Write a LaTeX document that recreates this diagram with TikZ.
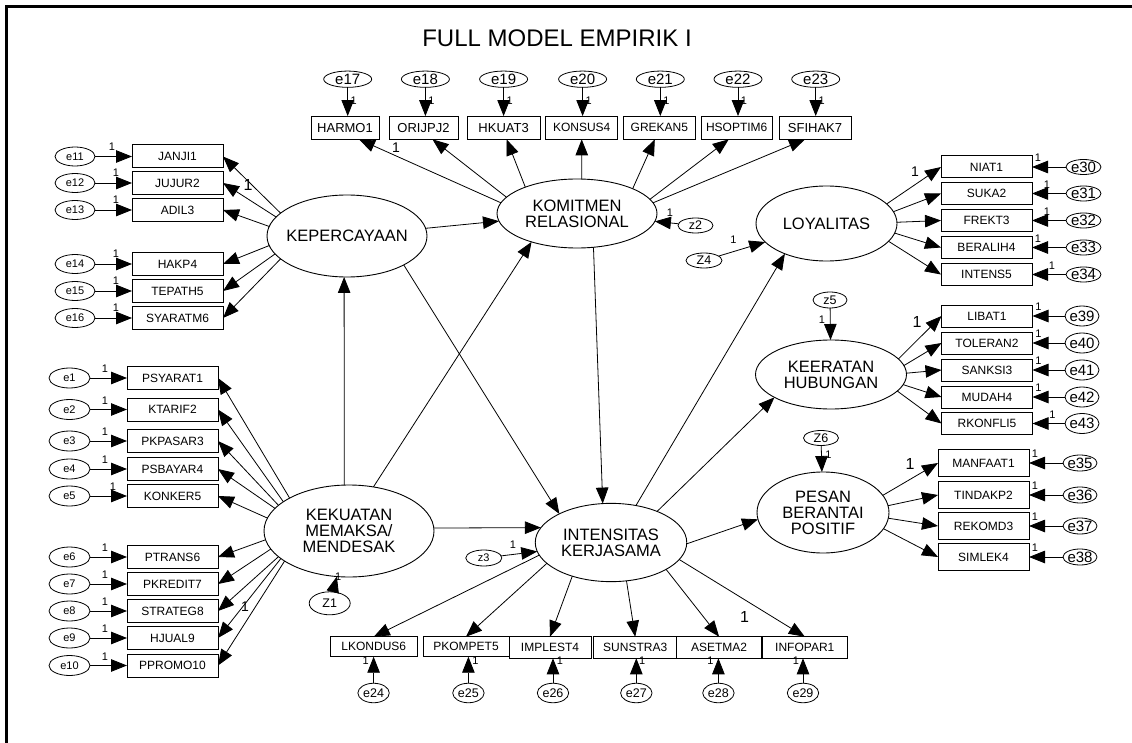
\documentclass[tikz,border=0pt]{standalone}
\usepackage{fontspec}
\setmainfont{Liberation Sans}
\usetikzlibrary{arrows.meta,shapes.geometric}
\newcommand{\myfs}[1]{\fontsize{#1}{#1}\selectfont}
\begin{document}
\begin{tikzpicture}[x=1pt,y=-1pt,
  every node/.style={inner sep=0pt,outer sep=0pt},
  box/.style={draw,line width=1pt,minimum width=91pt,minimum height=23pt,font=\myfs{12}},
  errlab/.style={font=\myfs{11}},
  err/.style={draw,ellipse,line width=0.8pt,label={[errlab]center:#1}},
  lvlab/.style={align=center,font=\fontsize{16.5}{16}\selectfont},
  lv/.style={draw,ellipse,line width=0.9pt,label={[lvlab]center:{#1}}},
  con/.style={line width=0.8pt,-{Triangle[length=16pt,width=12.5pt]}},
  one/.style={font=\myfs{11}},
  big/.style={font=\myfs{16}},
]
\useasboundingbox (0,0) rectangle (1132,743);
% frame along the top and left edges
\draw[line width=3.3pt] (6.7,743) -- (6.7,6.7) -- (1132,6.7);

\node[font=\myfs{24}] (title) at (557,38) {FULL MODEL EMPIRIK I};

% latent constructs
\node[lv={KOMITMEN\\RELASIONAL},minimum width=160pt,minimum height=69pt] (KOM) at (577,213.5) {};
\node[lv=KEPERCAYAAN,minimum width=160pt,minimum height=82pt] (KEP) at (347,236) {};
\node[lv={KEKUATAN\\MEMAKSA/\\MENDESAK},minimum width=170pt,minimum height=92pt] (KEK) at (349,531) {};
\node[lv={INTENSITAS\\KERJASAMA},minimum width=151.5pt,minimum height=78.3pt] (INT) at (611,542.5) {};
\node[lv=LOYALITAS,minimum width=141pt,minimum height=75pt] (LOY) at (826.5,223.5) {};
\node[lv={KEERATAN\\HUBUNGAN},minimum width=151pt,minimum height=69pt] (KEER) at (831,374.5) {};
\node[lv={PESAN\\BERANTAI\\POSITIF},minimum width=132pt,minimum height=81pt] (PES) at (823,512.5) {};

% structural paths
\draw[con] (KEP) -- (KOM);
\draw[con] (KEK.96) -- (KEP.266);
\draw[con] (KEK.61) -- (KOM.212);
\draw[con] (KEP.-27) -- (INT.151);
\draw[con] (KOM.-64) -- (INT.102);
\draw[con] (KEK.2) -- (INT.168);
\draw[con] (INT.56.5) -- (LOY.216.8);
\draw[con] (INT.34.3) -- (KEER.202.4);
\draw[con] (INT.-1.9) -- (PES.186.6);

% disturbances
\begin{scope}[errlab/.style={font=\myfs{12.5}}]
\node[err=z2,minimum width=35pt,minimum height=15pt] (z2) at (695.5,225.5) {};
\node[err=Z4,minimum width=36pt,minimum height=15pt] (Z4) at (704,260.5) {};
\node[err=z5,minimum width=34pt,minimum height=16pt] (z5) at (830,300) {};
\node[err=Z6,minimum width=35pt,minimum height=15pt] (Z6) at (821,438) {};
\node[err=Z1,minimum width=41pt,minimum height=23pt] (Z1) at (329.7,603.3) {};
\end{scope}
\node[err=z3,errlab/.style={font=\myfs{14}},minimum width=36pt,minimum height=16pt] (z3) at (483.8,558) {};
\draw[con] (z2) -- (KOM);
\draw[con] (Z4) -- (LOY);
\draw[con] (z5) -- (KEER);
\draw[con] (Z6) -- (PES);
\draw[con] (Z1) -- (KEK);
\draw[con] (z3) -- (INT);
\node[one] (wz2) at (670,213) {1};
\node[one] (wZ4) at (733.3,239.3) {1};
\node[one] (wz5) at (822,320) {1};
\node[one] (wZ6) at (828.3,455) {1};
\node[one] (wZ1) at (338.3,577) {1};
\node[one] (wz3) at (513,545) {1};

% indicators of KOMITMEN RELASIONAL
\begin{scope}[errlab/.style={font=\myfs{15}}]
\foreach \n/\e/\bx/\bw/\ex/\ang/\dx/\fs in {HARMO1/e17/345/68/347.7/172/14/13, ORIJPJ2/e18/423.5/69/425.4/167/9/13, HKUAT3/e19/503.6/73/503.6/153/3/13, KONSUS4/e20/581.7/72/582.6/82/0/12, GREKAN5/e21/659.4/72/660.3/24/-4.6/12, HSOPTIM6/e22/736.7/71/738/11/-8/12, SFIHAK7/e23/815/72/815.7/8/-10/13}{
  \node[box,minimum width=\bw pt,minimum height=23.3pt,font=\myfs{\fs}] (\n) at (\bx,127.7) {\n};
  \node[err=\e,minimum width=48pt,minimum height=16.3pt] (\e) at (\ex,79.2) {};
  \draw[con] (\e) -- (\e |- \n.north);
  \path (\e.south) ++(6,13) node[one] (w\e) {1};
  \draw[con] (KOM.\ang) -- ([xshift=\dx pt]\n.south);
}
\end{scope}

% indicators of KEPERCAYAAN
\foreach \n/\e/\y/\ang/\lx in {JANJI1/e11/156.5/161.7/-20, JUJUR2/e12/183/165.8/-16, ADIL3/e13/210/173.6/-16, HAKP4/e14/264/187.2/-16, TEPATH5/e15/291/194.5/-16, SYARATM6/e16/318/199.3/-16}{
  \node[box] (\n) at (177.5,\y) {\n};
  \node[err=\e,minimum width=40pt,minimum height=19pt] (\e) at (75,\y) {};
  \draw[con] (\e) -- (\n);
  \path (\n.west) ++(\lx,-10) node[one] (w\e) {1};
  \draw[con] (KEP.\ang) -- (\n.east);
}

% indicators of KEKUATAN MEMAKSA/MENDESAK
\foreach \n/\e/\y/\ang/\lx in {PSYARAT1/e1/378/151.7/-22, KTARIF2/e2/409.5/156.2/-22, PKPASAR3/e3/441/160.1/-22, PSBAYAR4/e4/469/163.3/-22, KONKER5/e5/496/171.2/-14, PTRANS6/e6/557/186.4/-22, PKREDIT7/e7/584/193.5/-22, STRATEG8/e8/611/200/-22, HJUAL9/e9/638/202.8/-22, PPROMO10/e10/665.5/205.6/-22}{
  \node[box] (\n) at (172.5,\y) {\n};
  \node[err=\e,minimum width=41pt,minimum height=20pt] (\e) at (69.5,\y) {};
  \draw[con] (\e) -- (\n);
  \path (\n.west) ++(\lx,-9) node[one] (w\e) {1};
  \draw[con] (KEK.\ang) -- (\n.east);
}

\begin{scope}[errlab/.style={font=\myfs{15}}]
% indicators of LOYALITAS
\foreach \n/\e/\y/\ang/\lx in {NIAT1/e30/167/18.1/6, SUKA2/e31/193.5/10.4/15, FREKT3/e32/220.5/1.5/15, BERALIH4/e33/247.5/-8.7/6, INTENS5/e34/274.5/-16.3/20}{
  \node[box,minimum height=22pt] (\n) at (986.5,\y) {\n};
  \node[err=\e,minimum width=35pt,minimum height=15pt] (\e) at (1083.5,\y) {};
  \draw[con] (\e) -- (\n);
  \path (\n.east) ++(\lx,-9) node[one] (w\e) {1};
  \draw[con] (LOY.\ang) -- (\n.west);
}
% indicators of KEERATAN HUBUNGAN
\foreach \n/\e/\y/\ang/\lx in {LIBAT1/e39/316/13.5/6, TOLERAN2/e40/343/7.5/6, SANKSI3/e41/370/1.4/6, MUDAH4/e42/397/-8.2/6, RKONFLI5/e43/423.5/-14.3/20}{
  \node[box,minimum height=22pt] (\n) at (987,\y) {\n};
  \node[err=\e,minimum width=34pt,minimum height=20pt] (\e) at (1082,\y) {};
  \draw[con] (\e) -- (\n);
  \path (\n.east) ++(\lx,-9) node[one] (w\e) {1};
  \draw[con] (KEER.\ang) -- (\n.west);
}
% indicators of PESAN BERANTAI POSITIF
\foreach \n/\e/\y/\ang/\lx in {MANFAAT1/e35/463/16.2/6, TINDAKP2/e36/495/6.6/6, REKOMD3/e37/526/-5.1/6, SIMLEK4/e38/557/-15.4/6}{
  \node[box,minimum height=27pt] (\n) at (983.5,\y) {\n};
  \node[err=\e,minimum width=34pt,minimum height=16pt] (\e) at (1080,\y) {};
  \draw[con] (\e) -- (\n);
  \path (\n.east) ++(\lx,-9) node[one] (w\e) {1};
  \draw[con] (PES.\ang) -- (\n.west);
}
\end{scope}

% indicators of INTENSITAS KERJASAMA
\begin{scope}[errlab/.style={font=\myfs{12.5}}]
\foreach \n/\e/\bx/\bw/\bh/\by/\ex/\ang/\lx in {LKONDUS6/e24/373.8/87/20/646.7/373.6/190.7/-8, PKOMPET5/e25/466/86/20/646.7/468.4/198.7/7, IMPLEST4/e26/550/82/21.6/647.5/553/221.9/7, SUNSTRA3/e27/635.2/83/21.6/647.5/636.3/292.3/6, ASETMA2/e28/719.1/84.6/21.6/647.5/718.4/334.7/-8, INFOPAR1/e29/804.8/84.6/21.6/647.5/803/346.4/-7}{
  \node[box,minimum width=\bw pt,minimum height=\bh pt] (\n) at (\bx,\by) {\n};
  \node[err=\e,minimum width=31.4pt,minimum height=19.5pt] (\e) at (\ex,693) {};
  \draw[con] (\e) -- (\e |- \n.south);
  \path (\e.north) ++(\lx,-23) node[one] (w\e) {1};
  \draw[con] (INT.\ang) -- (\n.north);
}
\end{scope}

% fixed loadings
\node[big] (fKEP) at (248,185) {1};
\node[font=\myfs{14}] (fKOM) at (396,148) {1};
\node[font=\myfs{14}] (fKEK) at (245,607) {1};
\node[font=\myfs{14}] (fLOY) at (915,172) {1};
\node[big] (fKEER) at (917,322) {1};
\node[big] (fPES) at (910,464) {1};
\node[big] (fINT) at (744.6,617) {1};
\end{tikzpicture}
\end{document}
